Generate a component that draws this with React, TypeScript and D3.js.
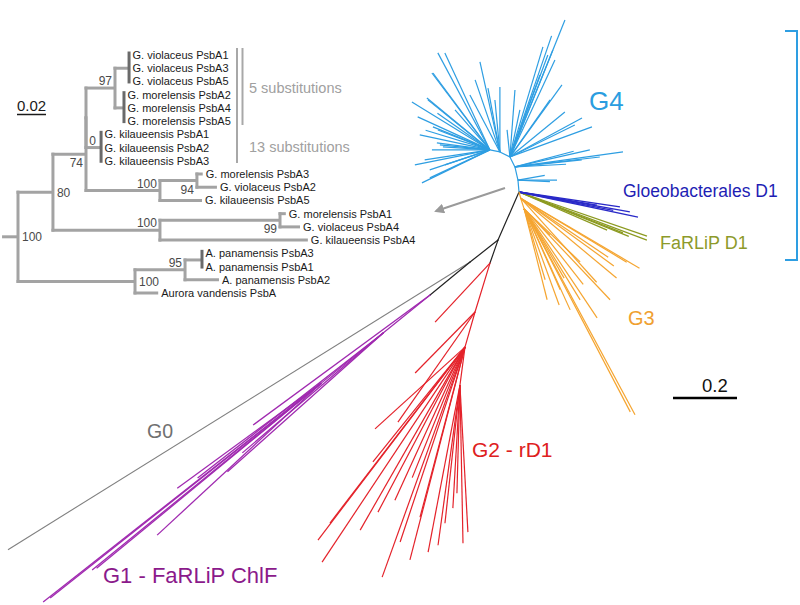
import React from 'react';
import * as d3 from 'd3';

const W = 800, H = 605;

// ---------------- Inset tree (PsbA of Gloeobacteria) ----------------
const insetTaxa = [
  'G. violaceus PsbA1', 'G. violaceus PsbA3', 'G. violaceus PsbA5',
  'G. morelensis PsbA2', 'G. morelensis PsbA4', 'G. morelensis PsbA5',
  'G. kilaueensis PsbA1', 'G. kilaueensis PsbA2', 'G. kilaueensis PsbA3',
  'G. morelensis PsbA3', 'G. violaceus PsbA2', 'G. kilaueensis PsbA5',
  'G. morelensis PsbA1', 'G. violaceus PsbA4', 'G. kilaueensis PsbA4',
  'A. panamensis PsbA3', 'A. panamensis PsbA1', 'A. panamensis PsbA2',
  'Aurora vandensis PsbA',
];
// id, parent, branch length, support
const insetNodes: [string, string | null, number, string][] = [
  ['root', null, 0, '100'],
  ['n80', 'root', 0.0241, '80'],
  ['n74', 'n80', 0.0228, '74'],
  ['n0', 'n74', 0, ''],
  ['n97', 'n0', 0.02, '97'],
  ['n100a', 'n74', 0.051, '100'],
  ['n94', 'n100a', 0.0255, '94'],
  ['n100b', 'n80', 0.0738, '100'],
  ['n99', 'n100b', 0.0828, '99'],
  ['n100c', 'root', 0.0807, '100'],
  ['n95', 'n100c', 0.0345, '95'],
];
// first row, last row, parent, branch length, support
const insetTips: [number, number, string, number, string][] = [
  [0, 2, 'n97', 0.009, ''],
  [3, 5, 'n97', 0.0055, ''],
  [6, 8, 'n0', 0.0097, '0'],
  [9, 9, 'n94', 0.004, ''],
  [10, 10, 'n94', 0.0138, ''],
  [11, 11, 'n100a', 0.029, ''],
  [12, 12, 'n99', 0.004, ''],
  [13, 13, 'n99', 0.0138, ''],
  [14, 14, 'n100b', 0.102, ''],
  [15, 16, 'n95', 0.011, ''],
  [17, 17, 'n95', 0.0234, ''],
  [18, 18, 'n100c', 0.016, ''],
];
const insetSubstitutions = ['5 substitutions', '13 substitutions'];
const insetScaleValue = 0.02;
const rootStub = 0.011;

// ---------------- Unrooted D1 tree ----------------
// id, parent, angle (deg), branch length, clade
const mainNodes: [string, string, number, number, string][] = [
  ['b1', 'O', 113.6, 0.164, 'k'],
  ['g0', 'b1', 141.8, 0.111, 'k'],
  ['p', 'g0', 140.5, 0.162, 'k'],
  ['pA', 'p', 141, 0.1875, 'G1'],
  ['pB', 'pA', 141, 0.25, 'G1'],
  ['r0', 'b1', 109.2, 0.076, 'k'],
  ['r2', 'r0', 107, 0.16, 'G2'],
  ['r3', 'r2', 106, 0.114, 'G2'],
  ['r4', 'r3', 97.5, 0.12, 'G2'],
  ['a1', 'O', -95, 0.0375, 'G4'],
  ['a2', 'a1', -103, 0.042, 'G4'],
  ['a3', 'a2', -116.6, 0.035, 'G4'],
  ['a4', 'a3', -153.4, 0.035, 'G4'],
  ['a5', 'a4', -168.7, 0.032, 'G4'],
  ['o1', 'O', 75, 0.02, 'G3'],
  ['o2', 'o1', 72, 0.035, 'G3'],
];
// parent, angle, length
const g4Leaves: [string, number, number][] = [
  ['a5', -148.4, 0.286], ['a5', -167.9, 0.224], ['a5', 154.1, 0.236], ['a5', 171.3, 0.206],
  ['a5', 161.6, 0.198], ['a5', -126.5, 0.299], ['a5', -118.2, 0.344], ['a5', -114.9, 0.334],
  ['a5', -141.1, 0.249], ['a5', -155.4, 0.248], ['a5', -174.3, 0.157], ['a5', -131, 0.166],
  ['a5', -159, 0.174], ['a5', 180, 0.181], ['a5', 161.6, 0.148], ['a5', -140.5, 0.255],
  ['a5', -158, 0.192], ['a5', -172.5, 0.167], ['a5', -176.3, 0.147], ['a5', -127, 0.301],
  ['a5', 155, 0.207], ['a5', 168.7, 0.239], ['a5', -145, 0.2], ['a5', -163, 0.21],
  ['a4', -102.5, 0.288], ['a4', -100.6, 0.203], ['a4', -90, 0.203], ['a4', -117.8, 0.201],
  ['a4', -109, 0.238], ['a4', -95.5, 0.163],
  ['a3', -68.1, 0.461], ['a3', -73.3, 0.359], ['a3', -68.1, 0.36], ['a3', -69.6, 0.34],
  ['a3', -54.2, 0.278], ['a3', -39.3, 0.222], ['a3', -28.4, 0.256], ['a3', -20.1, 0.273],
  ['a3', -96, 0.085], ['a3', -85.7, 0.21], ['a3', -78, 0.15], ['a3', -65.1, 0.334],
  ['a3', -69.9, 0.273], ['a3', -26.2, 0.226], ['a3', -54.9, 0.218], ['a3', -71, 0.4],
  ['a2', -6.7, 0.267], ['a2', -6, 0.21], ['a2', -12.8, 0.24], ['a2', -3, 0.16],
  ['a2', -15, 0.19], ['a2', -7.9, 0.341],
  ['a1', 0, 0.122], ['a1', -10, 0.085], ['a1', 3, 0.1],
];
const gloeoLeaves: [string, number, number][] = [
  ['O', 11.9, 0.38], ['O', 8.4, 0.319], ['O', 9.5, 0.247], ['O', 10.2, 0.352], ['O', 11, 0.3],
];
const farlipD1Leaves: [string, number, number][] = [
  ['O', 19, 0.423], ['O', 20.6, 0.427], ['O', 21.5, 0.349], ['O', 23.4, 0.3], ['O', 22, 0.37],
];
const g3Leaves: [string, number, number][] = [
  ['o1', 31.1, 0.387], ['o1', 30.5, 0.431], ['o1', 39.8, 0.39], ['o1', 47.9, 0.354],
  ['o1', 36, 0.36], ['o1', 34, 0.33],
  ['o2', 43.4, 0.241], ['o2', 45, 0.115], ['o2', 75.8, 0.293], ['o2', 58.4, 0.334],
  ['o2', 56.2, 0.41], ['o2', 61.7, 0.731], ['o2', 62.4, 0.716], ['o2', 66, 0.277],
  ['o2', 65.5, 0.347], ['o2', 73.5, 0.231], ['o2', 46.6, 0.391], ['o2', 52, 0.3],
  ['o2', 70, 0.32], ['o2', 60, 0.25],
];
const g2Leaves: [string, number, number][] = [
  ['r0', 132.9, 0.252], ['r2', 134.5, 0.267], ['r2', 125, 0.42],
  ['r3', 137.7, 0.38], ['r3', 128.7, 0.46], ['r3', 127.3, 0.758], ['r3', 123.6, 0.807],
  ['r3', 127.5, 0.693], ['r3', 117.8, 0.583], ['r3', 108.4, 0.642], ['r3', 109.8, 0.764],
  ['r3', 104.8, 0.55], ['r3', 112, 0.44], ['r3', 119.8, 0.659], ['r3', 114.6, 0.526],
  ['r3', 104.5, 0.687],
  ['r4', 100.8, 0.531], ['r4', 97.8, 0.505], ['r4', 96.2, 0.434], ['r4', 93.3, 0.385],
  ['r4', 91.6, 0.338], ['r4', 88.9, 0.494], ['r4', 86.9, 0.46],
];
const g1Leaves: [string, number, number][] = [
  ['p', 143.7, 0.686],
  ['pA', 139.6, 0.579], ['pA', 138.3, 0.653], ['pA', 142, 0.737],
  ['pB', 143.9, 0.557], ['pB', 137.2, 0.699], ['pB', 140.8, 0.924], ['pB', 140.5, 0.91],
  ['pB', 141.8, 1.106], ['pB', 141.6, 1.081],
];
const g0Leaves: [string, number, number][] = [['g0', 148.1, 1.701]];
const mainScaleValue = 0.2;

const cladeColors: Record<string, string> = {
  k: '#222222', G4: '#2e9ee2', Gloeo: '#2a2ac8', FaRLiP: '#8c9a20', G3: '#f5a530',
  G2: '#e4222a', G1: '#a02ab0', G0: '#808080',
};

const FONT = 'Liberation Sans, Arial, sans-serif';

export default function App() {
  // ---------- inset layout ----------
  const ix = d3.scaleLinear().domain([0, 0.2]).range([18, 18 + 290]);
  const iy = d3.scaleLinear().domain([0, 18]).range([55, 293]);
  const iw = d3.scaleLinear().domain([0, 0.2]).range([0, 290]);

  const nodeX: Record<string, number> = {};
  const nodeY: Record<string, number> = {};
  const children: Record<string, { kind: 'n' | 't'; idx: number }[]> = {};
  insetNodes.forEach(([id, parent], i) => {
    if (parent) (children[parent] = children[parent] || []).push({ kind: 'n', idx: i });
  });
  insetTips.forEach((t, i) => { (children[t[2]] = children[t[2]] || []).push({ kind: 't', idx: i }); });
  const dist: Record<string, number> = {};
  insetNodes.forEach(([id, parent, len]) => { dist[id] = (parent ? dist[parent] : 0) + len; nodeX[id] = ix(dist[id]); });
  const tipX = insetTips.map((t) => ix(dist[t[2]] + t[3]));
  const tipY = insetTips.map((t) => (iy(t[0]) + iy(t[1])) / 2);
  const span: Record<string, [number, number]> = {};
  const computeY = (id: string): number => {
    const ys = (children[id] || []).map((c) => (c.kind === 't' ? tipY[c.idx] : computeY(insetNodes[c.idx][0])));
    span[id] = [d3.min(ys)!, d3.max(ys)!];
    nodeY[id] = (span[id][0] + span[id][1]) / 2;
    return nodeY[id];
  };
  computeY('root');

  const supportPlacement: Record<string, string> = {
    root: 'right', n80: 'right', n100c: 'right', n74: 'below', n94: 'below', n99: 'below',
  };

  const insetGray = '#a3a3a3';
  const insetEls: React.ReactNode[] = [];
  insetEls.push(<line key="stub" x1={nodeX.root - iw(rootStub)} x2={nodeX.root} y1={nodeY.root} y2={nodeY.root} stroke={insetGray} strokeWidth={3} />);
  insetNodes.forEach(([id, parent, , sup]) => {
    if (parent) insetEls.push(<line key={'h' + id} x1={nodeX[parent] - 1.5} x2={nodeX[id]} y1={nodeY[id]} y2={nodeY[id]} stroke={insetGray} strokeWidth={3} />);
    insetEls.push(<line key={'v' + id} x1={nodeX[id]} x2={nodeX[id]} y1={span[id][0] - 1.5} y2={span[id][1] + 1.5} stroke={insetGray} strokeWidth={3} />);
    if (sup) {
      const pl = supportPlacement[id] || 'above';
      const x = pl === 'right' ? nodeX[id] + 4 : nodeX[id] - 3;
      const y = pl === 'right' ? nodeY[id] + 4.5 : pl === 'below' ? nodeY[id] + 13 : nodeY[id] - 3;
      insetEls.push(<text key={'s' + id} x={x} y={y} fontSize={12} fill="#4a4a4a" textAnchor={pl === 'right' ? 'start' : 'end'}>{sup}</text>);
    }
  });
  insetTips.forEach(([r0, r1, parent, , sup], i) => {
    const y = tipY[i];
    insetEls.push(<line key={'t' + i} x1={nodeX[parent] - 1.5} x2={tipX[i]} y1={y} y2={y} stroke={insetGray} strokeWidth={3} />);
    let labelX = tipX[i] + 3;
    if (r1 > r0) {
      insetEls.push(<line key={'bar' + i} x1={tipX[i] + 1} x2={tipX[i] + 1} y1={iy(r0) - 3.5} y2={iy(r1) + 2} stroke="#6a6a6a" strokeWidth={3} />);
      labelX = tipX[i] + 4.5;
    }
    if (sup) insetEls.push(<text key={'ts' + i} x={nodeX[parent] + 10} y={y - 3} fontSize={12} fill="#4a4a4a" textAnchor="end">{sup}</text>);
    d3.range(r0, r1 + 1).forEach((r) => {
      insetEls.push(<text key={'l' + r} x={labelX} y={iy(r) + 4} fontSize={11} fill="#1a1a1a">{insetTaxa[r]}</text>);
    });
  });

  // ---------- main tree layout ----------
  const u = d3.scaleLinear().domain([0, mainScaleValue]).range([0, 64]);
  const origin: [number, number] = [519, 192];
  const pos: Record<string, [number, number]> = { O: origin };
  const rad = (a: number) => (a * Math.PI) / 180;
  const step = (from: [number, number], ang: number, len: number): [number, number] => [
    from[0] + u(len) * Math.cos(rad(ang)), from[1] + u(len) * Math.sin(rad(ang)),
  ];
  const mainEls: React.ReactNode[] = [];
  const leafSets: [string, [string, number, number][], number][] = [
    ['G0', g0Leaves, 1.1], ['G1', g1Leaves, 1.3], ['G2', g2Leaves, 1.2], ['G3', g3Leaves, 1.2],
    ['FaRLiP', farlipD1Leaves, 1.3], ['Gloeo', gloeoLeaves, 1.3], ['G4', g4Leaves, 1.2],
  ];
  mainNodes.forEach(([id, parent, ang, len]) => { pos[id] = step(pos[parent], ang, len); });
  leafSets.forEach(([clade, leaves, sw]) => {
    leaves.forEach(([parent, ang, len], i) => {
      const a = pos[parent];
      const b = step(a, ang, len);
      mainEls.push(<line key={clade + i} x1={a[0]} y1={a[1]} x2={b[0]} y2={b[1]} stroke={cladeColors[clade]} strokeWidth={sw} />);
    });
  });
  mainNodes.forEach(([id, parent, , , clade]) => {
    const a = pos[parent], b = pos[id];
    mainEls.push(<line key={'n' + id} x1={a[0]} y1={a[1]} x2={b[0]} y2={b[1]} stroke={cladeColors[clade]} strokeWidth={1.2} strokeLinecap="round" />);
  });

  return (
    <svg width={W} height={H} style={{ position: 'absolute', left: 0, top: 0, background: '#fff' }} fontFamily={FONT}>
      <defs>
        <marker id="ah" viewBox="0 0 10 10" refX="8" refY="5" markerWidth="5" markerHeight="5" orient="auto">
          <path d="M0,0 L10,5 L0,10 z" fill="#9a9a9a" />
        </marker>
      </defs>
      <rect width={W} height={H} fill="#fff" />
      {/* inset */}
      <g>{insetEls}</g>
      <line x1={237} x2={237} y1={48} y2={163} stroke="#a8a8a8" strokeWidth={2} />
      <line x1={242.5} x2={242.5} y1={48} y2={125} stroke="#a8a8a8" strokeWidth={2} />
      <text x={249} y={93} fontSize={14.5} fill="#a0a0a0">{insetSubstitutions[0]}</text>
      <text x={249} y={152} fontSize={14.5} fill="#a0a0a0">{insetSubstitutions[1]}</text>
      <text x={17} y={111} fontSize={15} fill="#1a1a1a">{String(insetScaleValue)}</text>
      <line x1={17} x2={17 + iw(insetScaleValue)} y1={114.5} y2={114.5} stroke="#1a1a1a" strokeWidth={1.5} />

      {/* main tree */}
      <g>{mainEls}</g>
      <line x1={505} y1={188} x2={436} y2={211} stroke="#9a9a9a" strokeWidth={2} markerEnd="url(#ah)" />

      {/* scale bar */}
      <line x1={673} x2={673 + u(mainScaleValue)} y1={398} y2={398} stroke="#000" strokeWidth={2.5} />
      <text x={702} y={392} fontSize={18.5} fill="#111">{String(mainScaleValue)}</text>

      {/* bracket */}
      <path d="M785,31 H797 V260 H785" fill="none" stroke={cladeColors.G4} strokeWidth={2} />

      {/* clade labels */}
      <text x={589} y={110} fontSize={26} fill="#2a9de0">G4</text>
      <text x={623} y={197} fontSize={17.5} fill="#1e1eb4">Gloeobacterales D1</text>
      <text x={660} y={249} fontSize={18} fill="#8d9a2a">FaRLiP D1</text>
      <text x={628} y={325} fontSize={20} fill="#f0a030">G3</text>
      <text x={472} y={457} fontSize={21} fill="#de2020">G2 - rD1</text>
      <text x={147} y={438} fontSize={19.5} fill="#707070">G0</text>
      <text x={103} y={583} fontSize={22} fill="#8b1a8b">G1 - FaRLiP ChlF</text>
    </svg>
  );
}
